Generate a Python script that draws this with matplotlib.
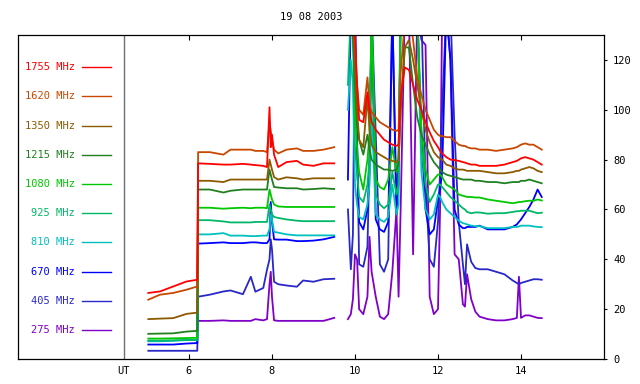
import numpy as np
import matplotlib
matplotlib.use('Agg')
import matplotlib.pyplot as plt

plt.rcParams["font.family"] = ["DejaVu Sans Mono", "DejaVu Sans"]

title = "19 08 2003"
freq_labels = ["1755 MHz", "1620 MHz", "1350 MHz", "1215 MHz", "1080 MHz",
               "925 MHz", "810 MHz", "670 MHz", "405 MHz", "275 MHz"]
colors = ['#ff0000', '#c84800', '#8c5a00', '#208020', '#00c800',
          '#00b868', '#00c0c0', '#0000ff', '#2828c8', '#8000c8']

x_ticks = [6, 8, 10, 12, 14]
y_ticks = [0, 20, 40, 60, 80, 100, 120]
ut_pos = 4.43

# UT hours: early morning segment (connected), then the burst segment after a gap
t_morning = [5.02, 5.3, 5.62, 5.94, 6.2,
             6.22, 6.5, 6.83, 7.0, 7.3, 7.49, 7.6, 7.79, 7.88, 7.94,
             7.97, 8.0, 8.05, 8.15, 8.35, 8.6, 8.75, 9.0, 9.24, 9.5]
t_burst = [9.83, 9.9, 9.95, 10.0, 10.05, 10.1, 10.2, 10.3, 10.35, 10.4,
           10.5, 10.6, 10.7, 10.8, 10.9, 11.0, 11.05, 11.1, 11.2, 11.3,
           11.4, 11.5, 11.6, 11.7, 11.8, 11.9, 12.0, 12.05, 12.1, 12.2,
           12.3, 12.4, 12.5, 12.6, 12.65, 12.7, 12.8, 12.9, 13.0, 13.2,
           13.4, 13.6, 13.8, 13.9, 13.95, 14.0, 14.1, 14.2, 14.3, 14.4, 14.5]

f1755_morning = [26.5, 27.1, 29.1, 31.1, 31.8,
                 78.5, 78.3, 78, 78, 78.3, 78, 77.8, 77.5, 77, 101,
                 85, 90, 82, 77, 79, 79.5, 78, 77.5, 78.5, 78.5]
f1755_burst = [140, 140, 140, 130, 110, 96, 95, 107, 100, 95,
               92, 90, 88, 87, 86, 85.5, 86, 105, 117, 116,
               110, 104, 100, 95, 91, 87.5, 85, 83.5, 82.5, 81,
               80, 79.8, 79.5, 79, 78.8, 78.5, 78, 78, 77.5, 77.5,
               77.5, 78, 79, 79.5, 80, 80.5, 81, 80.5, 80, 79, 78]

f1620_morning = [23.8, 25.8, 26.5, 27.8, 29.1,
                 83, 83, 82, 84, 84, 84, 83.5, 83.5, 83, 95,
                 91.5, 88, 84, 82.5, 84, 84.5, 83.5, 83.5, 84, 85]
f1620_burst = [140, 140, 140, 125, 110, 100, 98, 113, 102, 99,
               97, 95, 94, 93, 92, 91.5, 92, 115, 135, 140,
               128, 113, 106, 100, 96, 92, 90, 89.5, 89.5, 89,
               89, 87.5, 86, 85.5, 85.5, 85, 84.5, 84.5, 84, 84,
               83.5, 84, 84.5, 85, 85.5, 86, 86.5, 86, 86, 85, 84]

f1350_morning = [16, 16.2, 16.4, 18.1, 18.6,
                 71.5, 71.5, 71, 72, 72, 72, 72, 72, 72, 80,
                 78, 76, 73, 72, 72.9, 72.5, 72, 72.5, 72.5, 72.5]
f1350_burst = [140, 140, 140, 120, 100, 88, 85, 105, 92, 86,
               83, 82, 81, 80, 79.5, 79, 80, 100, 125, 128,
               120, 110, 100, 92, 87, 83, 81, 80.5, 80, 78,
               77.5, 76.5, 76, 76, 75.8, 75.5, 75.5, 75.5, 75.5, 75,
               74.5, 74.5, 75, 75.5, 75.5, 76, 76.5, 77, 76.5, 75.5, 75]

f1215_morning = [10.1, 10.2, 10.3, 11, 11.3,
                 68, 68, 66.8, 67.5, 68, 68, 68, 68, 68, 76,
                 74, 72, 69, 68.8, 68.5, 68.5, 68, 68.2, 68.5, 68.2]
f1215_burst = [140, 140, 130, 110, 95, 88, 82, 90, 84, 80,
               78, 77, 76, 76, 75.5, 76, 78, 100, 125, 125,
               110, 97, 90, 86, 82, 79, 77, 76, 75, 74,
               73.5, 73, 72.5, 72, 72, 72, 72, 71.5, 71.5, 71,
               71, 70.5, 71, 71, 71, 71.5, 71.5, 72, 71.5, 71, 70.5]

f1080_morning = [8.2, 8.2, 8.3, 8.4, 8.5,
                 60.7, 60.7, 60.3, 60.5, 60.7, 60.5, 60.7, 60.7, 60.5, 68,
                 66, 64, 62, 61.2, 61, 61, 61, 61, 61, 61]
f1080_burst = [130, 140, 140, 100, 85, 75, 68, 80, 90, 140,
               72, 69, 68, 72, 85, 75, 80, 140, 140, 140,
               140, 140, 92, 76, 70, 72, 74, 74, 73, 70,
               69, 68, 66, 65.5, 65.3, 65, 65, 64.8, 64.8, 64,
               63.5, 63, 62.5, 62.8, 63, 63, 63.3, 63.5, 63.5, 64, 63.6]

f925_morning = [7.4, 7.4, 7.5, 7.6, 7.6,
                55.7, 55.7, 55.2, 54.8, 54.8, 54.8, 55, 55, 55, 62,
                60, 58, 57, 56.6, 56, 55.5, 55.3, 55.3, 55.3, 55.3]
f925_burst = [110, 140, 130, 85, 75, 65, 63, 70, 80, 140,
              66, 62, 60.5, 62, 75, 66, 70, 140, 140, 140,
              140, 140, 85, 70, 63, 66, 70, 70, 69, 67,
              65, 63.5, 62, 60.5, 60, 59, 58.5, 58.8, 58.8, 58.3,
              58.5, 58.5, 59, 59.3, 59.3, 59.5, 59.5, 59.5, 59, 58.5, 58.7]

f810_morning = [7.1, 7.1, 7.3, 7.6, 7.6,
                50, 50, 50.5, 49.5, 49.5, 49.3, 49.3, 49.5, 49.5, 52,
                58, 56, 51, 50.7, 50, 49.6, 49.6, 49.6, 49.6, 49.6]
f810_burst = [100, 120, 110, 70, 62, 57, 56, 62, 70, 100,
              58, 56, 55, 57, 70, 58, 62, 140, 140, 140,
              140, 140, 75, 60, 56, 58, 66, 65, 63, 60,
              58.5, 57, 55.5, 54.5, 54.3, 54, 53.5, 53.3, 53.3, 52.5,
              52.5, 52.5, 53, 53, 53.2, 53.5, 53.5, 53.5, 53.2, 53, 52.9]

f670_morning = [5.8, 5.8, 5.8, 6.2, 6.4,
                46.3, 46.5, 46.8, 46.5, 46.5, 46.8, 46.8, 46.5, 46.5, 48,
                63, 55, 48, 47.9, 47.9, 47.3, 47.3, 47.5, 48, 49]
f670_burst = [72, 140, 140, 140, 80, 55, 52, 60, 75, 140,
              56, 52, 51, 55, 140, 58, 70, 140, 140, 140,
              140, 140, 90, 60, 50, 52, 64, 68, 75, 140,
              120, 60, 54, 52.5, 52.5, 53, 53, 53, 53.5, 52,
              52, 52, 53, 54, 55, 56, 58.5, 61, 64, 68, 65]

f405_morning = [3.3, 3.3, 3.3, 3.3, 3.3,
                25, 25.8, 27.1, 27.5, 26, 33, 27, 28.5, 35.8, 40,
                48, 44, 31, 30, 29.5, 29, 31.5, 31, 32, 32.2]
f405_burst = [60, 36, 50, 140, 90, 38, 37, 45, 80, 140,
              90, 38, 35, 40, 140, 60, 80, 140, 140, 140,
              140, 140, 140, 70, 40, 37, 55, 75, 100, 140,
              140, 90, 55, 38, 30, 46, 39, 36.5, 36, 36,
              35, 34, 31.5, 30.5, 30, 30.5, 31, 31.5, 32, 32, 31.8]

f275_morning = [np.nan, np.nan, np.nan, np.nan, np.nan,
                15.3, 15.3, 15.5, 15.3, 15.3, 15.3, 16, 15.5, 16, 30,
                35, 25, 15.5, 15.3, 15.3, 15.3, 15.3, 15.3, 15.3, 16.5]
f275_burst = [16, 18, 24, 42, 40, 20, 18, 25, 49, 35,
              25, 17, 16, 18, 35, 60, 25, 60, 140, 140,
              42, 140, 128, 126, 25, 18, 20, 60, 140, 140,
              120, 42, 40, 22, 21, 34, 24, 19, 17, 16,
              15.5, 15.5, 16, 16.5, 33, 16.5, 17.5, 17.5, 17, 16.5, 16.4]

morning = [f1755_morning, f1620_morning, f1350_morning, f1215_morning, f1080_morning,
           f925_morning, f810_morning, f670_morning, f405_morning, f275_morning]
burst = [f1755_burst, f1620_burst, f1350_burst, f1215_burst, f1080_burst,
         f925_burst, f810_burst, f670_burst, f405_burst, f275_burst]


def main():
    fig = plt.figure(figsize=(6.4, 3.84), dpi=100)
    ax = fig.add_axes([18 / 640, 25 / 384, 586 / 640, 324 / 384])

    t_all = np.concatenate([t_morning, [np.nan], t_burst])
    # lowest frequency first so the high ones sit on top
    for i in reversed(range(len(freq_labels))):
        vals = np.concatenate([morning[i], [np.nan], burst[i]])
        ax.plot(t_all, vals, color=colors[i], linewidth=1.3)

    ax.axvline(ut_pos, color='#707070', linewidth=1.0)

    ax.set_xlim(1.88, 16.0)
    ax.set_ylim(0, 130)

    ax.set_xticks([ut_pos] + x_ticks)
    ax.set_xticklabels(["UT"] + [str(v) for v in x_ticks], fontsize=7.5)
    ax.tick_params(axis='x', which='both', direction='in', length=3.5,
                   top=True, bottom=True, pad=5, width=0.8)
    xt = ax.xaxis.get_major_ticks()
    xt[0].tick1line.set_visible(False)
    xt[0].tick2line.set_visible(False)

    ax.yaxis.tick_right()
    ax.set_yticks(y_ticks)
    ax.set_yticklabels([str(v) for v in y_ticks], fontsize=7.5)
    ax.tick_params(axis='y', direction='out', length=2.5, width=0.8, pad=4)

    for s in ax.spines.values():
        s.set_linewidth(0.9)
        s.set_color('black')

    # channel key on the left panel
    for i, lab in enumerate(freq_labels):
        yy = 0.9003 - i * 0.0901
        ax.text(0.0975, yy, lab, color=colors[i], fontsize=7.5, ha='right', va='center',
                transform=ax.transAxes)
        ax.plot([0.109, 0.1587], [yy, yy], color=colors[i], linewidth=1.0,
                transform=ax.transAxes)

    fig.text(311 / 640, 1 - 17 / 384, title, fontsize=7.5, ha='center', va='center')

    fig.savefig("out.png", dpi=100)
    plt.close(fig)


if __name__ == "__main__":
    main()
